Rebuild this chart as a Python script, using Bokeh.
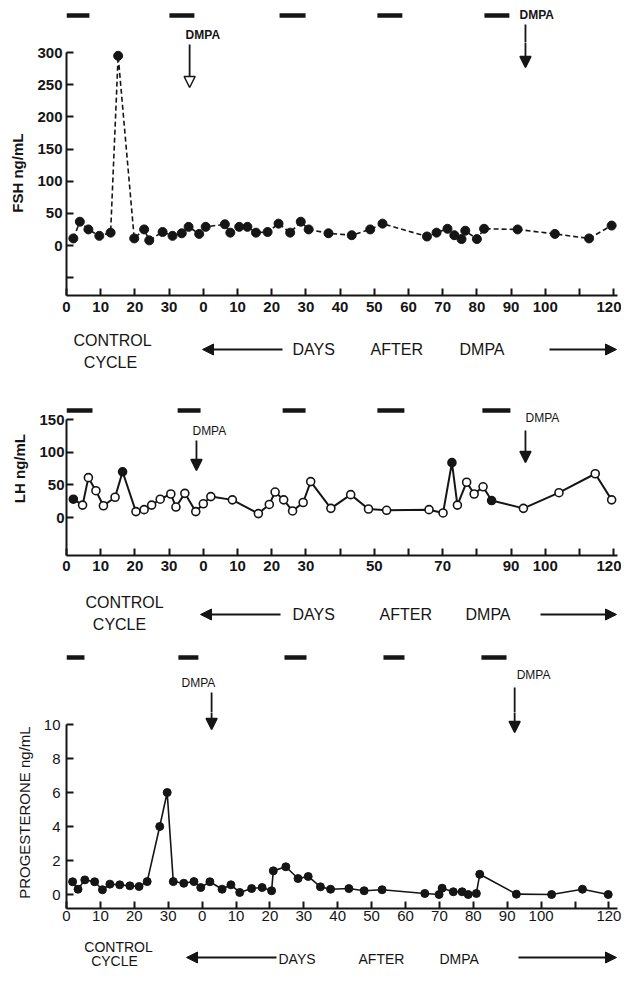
from bokeh.plotting import figure
from bokeh.layouts import column
from bokeh.models import Range1d, FixedTicker, Arrow, NormalHead
from bokeh.core.properties import value
from bokeh.embed import file_html
from bokeh.resources import INLINE

# ---------------- data ----------------
OFFSET = 40  # DMPA day 0 sits 40 days after control-cycle day 0 on the shared day axis

fsh_ctrl_day = [2.0, 3.9, 6.4, 9.6, 12.9, 15.1, 19.8, 22.7, 24.2, 28.1, 31.0, 33.7, 35.7, 38.8]
fsh_ctrl_val = [11, 37, 25, 15, 20, 295, 11, 25, 8, 21, 15, 19, 29, 18]
fsh_dmpa_day = [0.7, 6.3, 7.9, 10.5, 12.9, 15.4, 18.8, 22.0, 25.4, 28.5, 30.8, 36.6, 43.4, 48.8,
                52.4, 65.4, 68.2, 71.4, 73.4, 75.5, 76.6, 80.0, 82.1, 91.9, 102.8, 112.8, 119.4]
fsh_dmpa_val = [29, 33, 20, 29, 29, 20, 21, 34, 20, 37, 25, 19, 16, 25,
                34, 14, 20, 26, 16, 10, 23, 10, 26, 25, 18, 11, 31]

lh_ctrl_day = [2.0, 4.7, 6.4, 8.6, 10.8, 14.2, 16.4, 20.3, 22.7, 24.9, 27.4, 30.5, 32.0, 34.6, 37.8]
lh_ctrl_val = [28, 19, 61, 41, 18, 31, 70, 9, 12, 19, 28, 36, 16, 37, 9]
lh_ctrl_filled = [1, 0, 0, 0, 0, 0, 1, 0, 0, 0, 0, 0, 0, 0, 0]
lh_dmpa_day = [0.0, 2.2, 8.5, 16.1, 19.3, 21.0, 23.5, 26.1, 29.2, 31.4, 37.3, 43.1, 48.3,
               53.6, 66.0, 70.1, 72.7, 74.3, 77.0, 79.2, 81.8, 84.3, 93.6, 104.0, 114.6, 119.4]
lh_dmpa_val = [21, 32, 27, 6, 20, 39, 27, 10, 23, 55, 14, 35, 13,
               11, 12, 7, 84, 19, 54, 36, 47, 26, 14, 38, 67, 27]
lh_dmpa_filled = [0, 0, 0, 0, 0, 0, 0, 0, 0, 0, 0, 0, 0,
                  0, 0, 0, 1, 0, 0, 0, 0, 1, 0, 0, 0, 0]

prog_ctrl_day = [1.8, 3.4, 5.4, 8.3, 10.6, 12.8, 15.7, 18.7, 21.4, 23.8, 27.5, 29.7, 31.5, 34.6, 37.6, 39.6]
prog_ctrl_val = [0.75, 0.31, 0.86, 0.75, 0.28, 0.61, 0.57, 0.51, 0.47, 0.76, 4.0, 6.0, 0.76, 0.66, 0.76, 0.41]
prog_dmpa_day = [2.3, 5.9, 8.5, 11.1, 14.6, 17.7, 20.5, 21.0, 24.7, 28.3, 31.3, 34.9, 37.9, 43.3,
                 47.8, 53.1, 65.7, 69.9, 70.8, 74.1, 76.7, 78.5, 80.9, 81.9, 92.7, 103.1, 112.2, 119.8]
prog_dmpa_val = [0.75, 0.31, 0.57, 0.12, 0.35, 0.41, 0.22, 1.39, 1.63, 0.94, 1.06, 0.45, 0.31, 0.35,
                 0.22, 0.28, 0.06, 0.0, 0.37, 0.16, 0.16, 0.0, 0.06, 1.19, 0.02, 0.0, 0.31, 0.0]

# bleeding episodes (bars above each panel), start / end on the shared day axis
fsh_bar_start = [0, 30.1, 62.3, 90.9, 122.2]
fsh_bar_end = [6.7, 37.4, 69.9, 98.2, 129.5]
lh_bar_start = [0, 32.5, 63.2, 90.9, 121.6]
lh_bar_end = [7.6, 39.2, 69.9, 98.8, 129.8]
prog_bar_start = [0, 33.0, 64.3, 93.5, 122.4]
prog_bar_end = [5.3, 38.9, 70.8, 99.7, 129.8]

# DMPA injections on the shared day axis
fsh_dmpa_inj = [36.0, 134.2]
lh_dmpa_inj = [38.0, 134.2]
prog_dmpa_inj = [42.8, 132.2]

ctrl_ticks = [0, 10, 20, 30]
dmpa_ticks = [0, 10, 20, 30, 40, 50, 60, 70, 80, 90, 100, 110, 120]
fsh_dmpa_tick_labels = ["0", "10", "20", "30", "40", "50", "60", "70", "80", "90", "100", "", "120"]
lh_dmpa_tick_labels = ["0", "10", "20", "30", "", "50", "", "70", "", "90", "100", "", "120"]
prog_dmpa_tick_labels = ["0", "10", "20", "30", "40", "50", "60", "70", "80", "90", "100", "", "120"]

fsh_yticks = [-50, 0, 50, 100, 150, 200, 250, 300]
fsh_ytick_labels = ["", "0", "50", "100", "150", "200", "250", "300"]
lh_yticks = [0, 50, 100, 150]
lh_ytick_labels = ["0", "50", "100", "150"]
prog_yticks = [0, 2, 4, 6, 8, 10]
prog_ytick_labels = ["0", "2", "4", "6", "8", "10"]

# ---------------- styling helpers ----------------
W = 621
FRAME_W = 551
BL, BR = 66, 4          # left / right borders shared by every figure (frames align)
INK = "#151515"
FONT = "Liberation Sans"


def base_fig(height, xr, yr, top, bottom, axes=False):
    kw = dict(width=W, height=height, x_range=xr, y_range=yr, output_backend="svg",
              toolbar_location=None, min_border_left=BL, min_border_right=BR,
              min_border_top=top, min_border_bottom=bottom)
    if not axes:
        kw.update(x_axis_location=None, y_axis_location=None)
    p = figure(**kw)
    p.grid.visible = False
    p.outline_line_color = None
    return p


def style_axes(p, xticks, xlabels, yticks, ylabels, ybounds, ylabel, bold, xstand, ystand):
    st = "bold" if bold else "normal"
    for ax in (p.xaxis[0], p.yaxis[0]):
        ax.axis_line_width = 2
        ax.axis_line_color = INK
        ax.major_tick_line_width = 2
        ax.major_tick_line_color = INK
        ax.major_tick_in = 7
        ax.major_tick_out = 0
        ax.minor_tick_line_color = None
        ax.major_label_text_font = FONT
        ax.major_label_text_font_size = "15px"
        ax.major_label_text_font_style = st
        ax.major_label_text_color = INK
    p.xaxis.ticker = FixedTicker(ticks=xticks)
    p.xaxis.major_label_overrides = dict(zip(xticks, xlabels))
    p.xaxis.major_label_standoff = xstand
    p.yaxis.ticker = FixedTicker(ticks=yticks)
    p.yaxis.major_label_overrides = dict(zip(yticks, ylabels))
    p.yaxis.major_label_standoff = ystand
    p.yaxis.bounds = ybounds
    p.yaxis.axis_label = ylabel
    p.yaxis.axis_label_text_font = FONT
    p.yaxis.axis_label_text_font_size = "15px"
    p.yaxis.axis_label_text_font_style = st
    p.yaxis.axis_label_text_color = INK
    p.yaxis.axis_label_standoff = 8


def marks(p, ymap, xscale, bs, be, bar_y, inj, lab_dx, lab_y, lab_style):
    """bleeding bars and DMPA labels (page-pixel layout converted through ymap)"""
    p.segment(x0=bs, x1=be, y0=[ymap(bar_y)] * len(bs), y1=[ymap(bar_y)] * len(bs),
              line_width=4.5, line_color=INK)
    p.text(x=[d + dx / xscale for d, dx in zip(inj, lab_dx)], y=[ymap(v) for v in lab_y],
           text=["DMPA"] * len(inj), text_align="left", text_baseline="middle",
           text_font=value(FONT), text_font_size="12px", text_font_style=lab_style,
           text_color=INK)


def arrows(p, ymap, inj, a0, a1, hollow):
    for d, y0, y1, h in zip(inj, a0, a1, hollow):
        head = NormalHead(size=11, fill_color="white" if h else INK, line_color=INK, line_width=1.5)
        p.add_layout(Arrow(x_start=d, x_end=d, y_start=ymap(y0), y_end=ymap(y1), end=head,
                           line_width=1.8, line_color=INK))


def caption(xr, org, xscale, top, bottom, ctrl_xy, cyc_xy, larr, words, rarr, arr_y, words_y, fs):
    p = base_fig(bottom - top, xr, Range1d(bottom, top), 0, 0)

    def X(px):
        return (px - org) / xscale

    p.text(x=[X(ctrl_xy[0]), X(cyc_xy[0])], y=[ctrl_xy[1], cyc_xy[1]], text=["CONTROL", "CYCLE"],
           text_align="center", text_baseline="middle", text_font=value(FONT),
           text_font_size=fs, text_color=INK)
    p.text(x=[X(w[0]) for w in words], y=[words_y] * len(words), text=[w[1] for w in words],
           text_align="left", text_baseline="middle", text_font=value(FONT),
           text_font_size=fs, text_color=INK)
    for a, b in (larr, rarr):
        p.add_layout(Arrow(x_start=X(a), x_end=X(b), y_start=arr_y, y_end=arr_y,
                           end=NormalHead(size=11, fill_color=INK, line_color=INK),
                           line_width=2, line_color=INK))
    return p


ident = lambda v: v
xt = ctrl_ticks + [t + OFFSET for t in dmpa_ticks]

# ---------------- panel 1 : FSH ----------------
O1, S1 = 74, 3.42
xr1 = Range1d(0, FRAME_W / S1)
y1 = lambda py: (253 - py) / 0.643

a1 = base_fig(42, xr1, Range1d(50, 8), 0, 0)
m1 = base_fig(285, xr1, Range1d(y1(303), y1(50)), 0, 32, axes=True)
style_axes(m1, xt, [str(t) for t in ctrl_ticks] + fsh_dmpa_tick_labels, fsh_yticks, fsh_ytick_labels,
           (y1(303), 300), "FSH   ng/mL", True, 6, 4)
fx = fsh_ctrl_day + [d + OFFSET for d in fsh_dmpa_day]
fy = fsh_ctrl_val + fsh_dmpa_val
m1.line(fx, fy, line_dash="5 3", line_width=1.6, line_color=INK)
m1.scatter(fx, fy, size=9, fill_color=INK, line_color=INK)
marks(a1, ident, S1, fsh_bar_start, fsh_bar_end, 23, fsh_dmpa_inj, [-4, -6], [42, 22], "bold")
for p, ym in ((a1, ident), (m1, y1)):
    arrows(p, ym, fsh_dmpa_inj, [52, 32], [95, 75], [True, False])
c1 = caption(xr1, O1, S1, 335, 385, (120, 348), (118, 370), (290, 210),
             [(300, "DAYS"), (378, "AFTER"), (467, "DMPA")], (557, 624), 357, 357, "16px")

# ---------------- panel 2 : LH ----------------
O2, S2 = 74, 3.42
xr2 = Range1d(0, FRAME_W / S2)
y2 = lambda py: (525 - py) / 0.653
m2 = base_fig(207, xr2, Range1d(y2(563), y2(385)), 0, 29, axes=True)
style_axes(m2, xt, [str(t) for t in ctrl_ticks] + lh_dmpa_tick_labels, lh_yticks, lh_ytick_labels,
           (y2(563), 150), "LH  ng/mL", True, 5, 2)
lx = lh_ctrl_day + [d + OFFSET for d in lh_dmpa_day]
ly = lh_ctrl_val + lh_dmpa_val
lf = [INK if f else "white" for f in lh_ctrl_filled + lh_dmpa_filled]
m2.line(lx, ly, line_width=2, line_color=INK)
m2.scatter(lx, ly, size=8, fill_color=lf, line_color=INK, line_width=1.6)
marks(m2, y2, S2, lh_bar_start, lh_bar_end, 418, lh_dmpa_inj, [-4, 0], [438, 425], "normal")
arrows(m2, y2, lh_dmpa_inj, [448, 438], [478, 470], [False, False])
c2 = caption(xr2, O2, S2, 592, 642, (132, 610), (127, 632), (288, 208),
             [(300, "DAYS"), (387, "AFTER"), (473, "DMPA")], (548, 624), 622, 622, "16px")

# ---------------- panel 3 : progesterone ----------------
O3, S3 = 70, 3.39   # origin / scale of the reference's third axis
xr3 = Range1d(0, FRAME_W / S3)
y3 = lambda py: (902 - py) / 17.0
a3 = base_fig(78, xr3, Range1d(720, 642), 0, 0)
m3 = base_fig(216, xr3, Range1d(y3(916), y3(720)), 0, 20, axes=True)
style_axes(m3, xt, [str(t) for t in ctrl_ticks] + prog_dmpa_tick_labels, prog_yticks, prog_ytick_labels,
           (y3(916), 10), "PROGESTERONE  ng/mL", False, 2, 6)
px_ = prog_ctrl_day + [d + OFFSET for d in prog_dmpa_day]
py_ = prog_ctrl_val + prog_dmpa_val
m3.line(px_, py_, line_width=1.6, line_color=INK)
m3.scatter(px_, py_, size=8, fill_color=INK, line_color=INK)
marks(a3, ident, S3, prog_bar_start, prog_bar_end, 665, prog_dmpa_inj, [-30, 2], [690, 682], "normal")
for p, ym in ((a3, ident), (m3, y3)):
    arrows(p, ym, prog_dmpa_inj, [700, 695], [737, 740], [False, False])
c3 = caption(xr3, O3, S3, 936, 978, (122, 954), (118, 968), (280, 190),
             [(282, "DAYS"), (362, "AFTER"), (443, "DMPA")], (522, 620), 965, 966, "14px")

page = column(a1, m1, c1, m2, c2, a3, m3, c3, spacing=0)
open("out.html", "w").write(file_html(page, INLINE))
